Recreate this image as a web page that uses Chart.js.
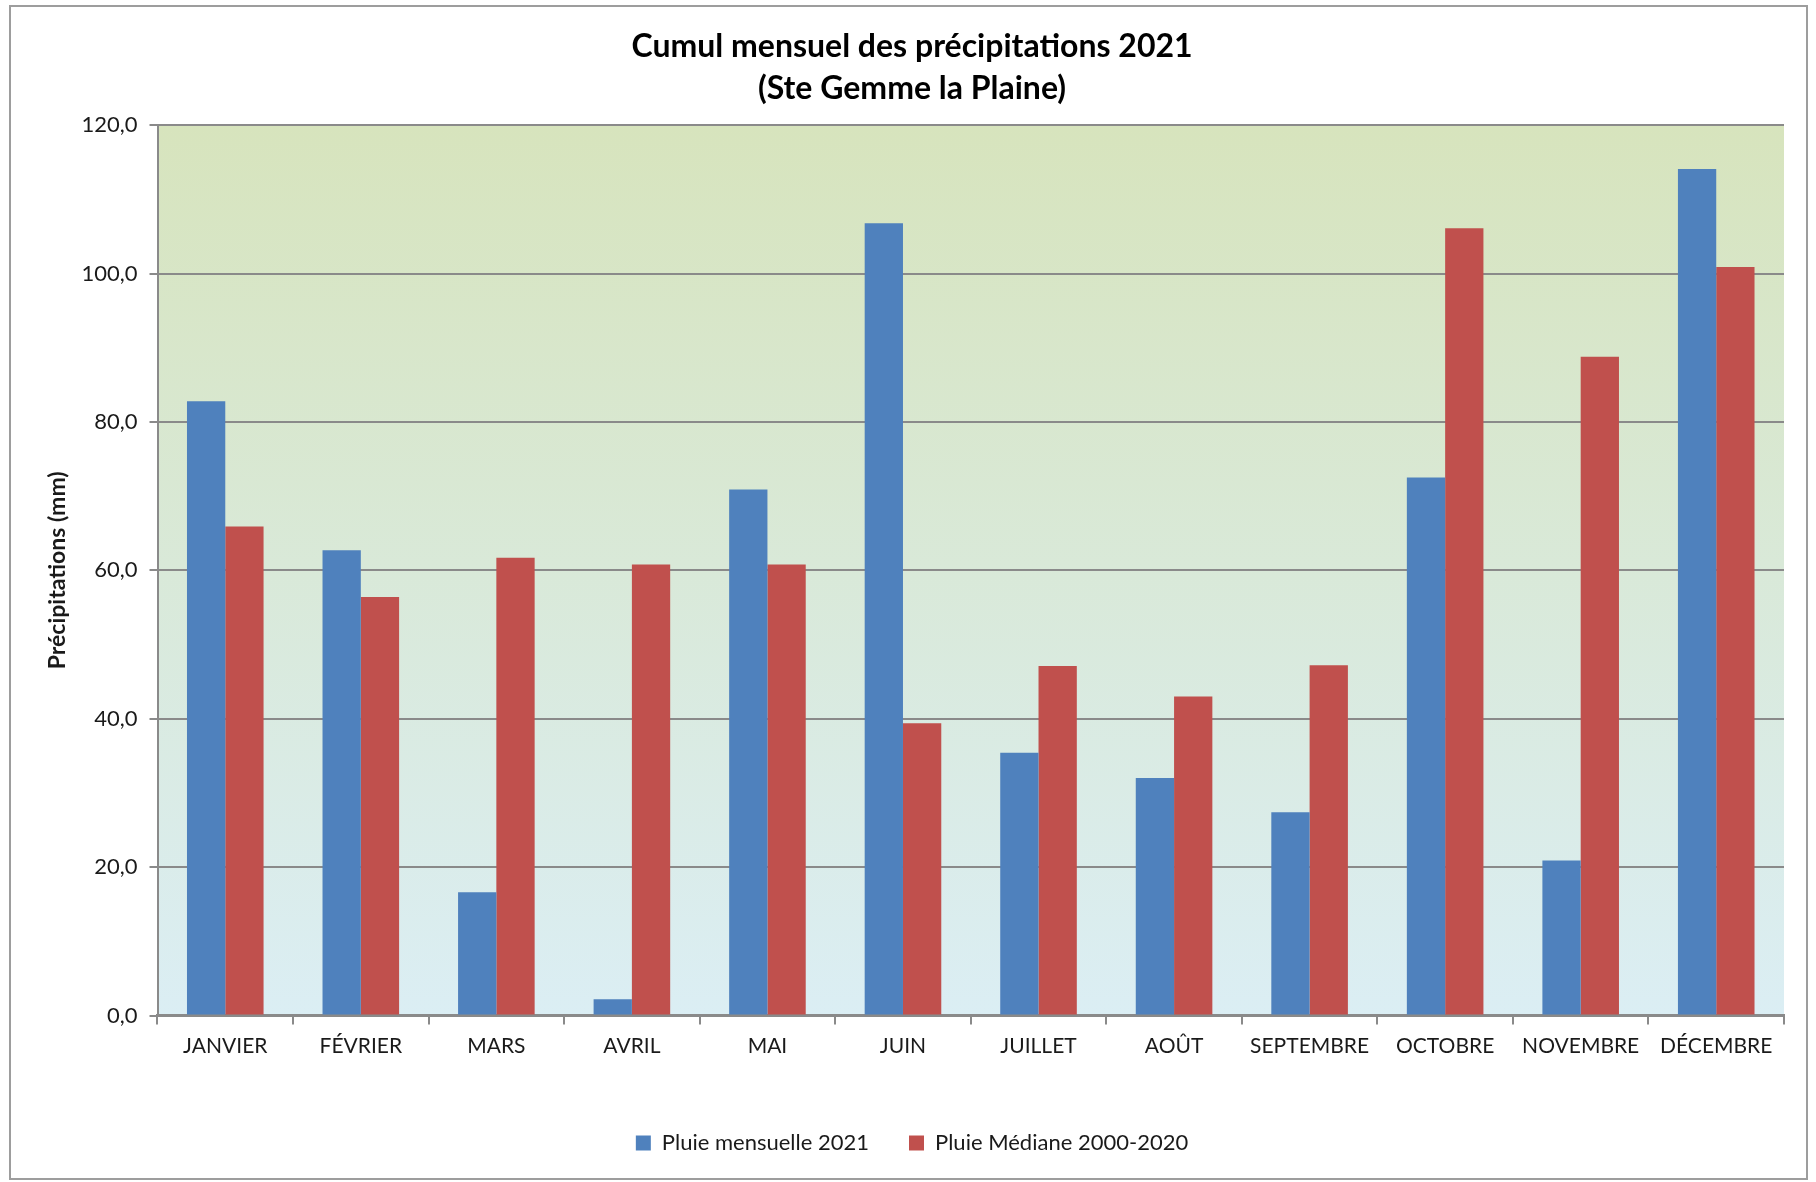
<!DOCTYPE html>
<html>
<head>
<meta charset="utf-8">
<script src="https://cdn.jsdelivr.net/npm/chart.js@4.4.1/dist/chart.umd.min.js"></script>
<style>
  html, body { margin: 0; padding: 0; background: #fff; }
</style>
</head>
<body>
<canvas id="rainChart" width="1816" height="1182"></canvas>
<script>
const months = ['JANVIER', 'FÉVRIER', 'MARS', 'AVRIL', 'MAI', 'JUIN', 'JUILLET', 'AOÛT', 'SEPTEMBRE', 'OCTOBRE', 'NOVEMBRE', 'DÉCEMBRE'];
const pluie2021 = [82.8, 62.7, 16.6, 2.2, 70.9, 106.8, 35.4, 32.0, 27.4, 72.5, 20.9, 114.1];
const mediane = [65.9, 56.4, 61.7, 60.8, 60.8, 39.4, 47.1, 43.0, 47.2, 106.1, 88.8, 100.9];
const yMin = 0, yMax = 120, yStep = 20;

const FONT = 'Lato, Carlito, Calibri, sans-serif';
const TEXT = '#1a1a1a';
const GRID = '#8a8a8a';

// white page + grey frame around everything
const frame = {
    id: 'frame',
    beforeDraw(chart) {
        const ctx = chart.ctx;
        ctx.save();
        ctx.fillStyle = '#fff';
        ctx.fillRect(0, 0, chart.width, chart.height);
        ctx.strokeStyle = '#9d9d9d';
        ctx.lineWidth = 2;
        ctx.strokeRect(10, 6, chart.width - 19, chart.height - 9);
        ctx.restore();
    }
};

// green -> light blue gradient behind the bars
const plotBackground = {
    id: 'plotBackground',
    beforeDraw(chart) {
        const { ctx, chartArea: a } = chart;
        const g = ctx.createLinearGradient(0, a.top, 0, a.bottom);
        g.addColorStop(0, '#d7e4bd');
        g.addColorStop(1, '#dbeef4');
        ctx.save();
        ctx.fillStyle = g;
        ctx.fillRect(a.left, a.top, a.right - a.left, a.bottom - a.top);
        ctx.restore();
    }
};

new Chart(document.getElementById('rainChart'), {
    type: 'bar',
    data: {
        labels: months,
        datasets: [{
            label: 'Pluie mensuelle 2021',
            data: pluie2021,
            backgroundColor: '#4f81bd'
        }, {
            label: 'Pluie Médiane 2000-2020',
            data: mediane,
            backgroundColor: '#c0504d'
        }]
    },
    options: {
        responsive: false,
        animation: false,
        layout: { padding: { left: 40, right: 32, top: 26, bottom: 18 } },
        datasets: {
            bar: { categoryPercentage: 0.565, barPercentage: 1 }
        },
        scales: {
            x: {
                grid: { drawOnChartArea: false, color: GRID, lineWidth: 2, tickLength: 9, offset: true },
                border: { color: GRID, width: 3 },
                ticks: { color: TEXT, font: { family: FONT, size: 21 }, padding: 9 },
                afterFit(s) { s.height = 76.5; }
            },
            y: {
                min: yMin,
                max: yMax,
                grid: { color: GRID, lineWidth: 2, tickLength: 8 },
                border: { color: GRID, width: 2 },
                ticks: {
                    stepSize: yStep,
                    color: TEXT,
                    font: { family: FONT, size: 22 },
                    padding: 12,
                    callback: v => v.toFixed(1).replace('.', ',')
                },
                title: {
                    display: true,
                    text: 'Précipitations (mm)',
                    color: TEXT,
                    font: { family: FONT, size: 23, weight: 'bold' },
                    padding: { top: 4, bottom: 0 }
                },
                afterFit(s) { s.width = 117.5; }
            }
        },
        plugins: {
            title: {
                display: true,
                text: ['Cumul mensuel des précipitations 2021', '(Ste Gemme la Plaine)'],
                color: '#000',
                font: { family: FONT, size: 32, weight: 'bold', lineHeight: 1.3 },
                padding: { top: 0, bottom: 16 }
            },
            legend: {
                position: 'bottom',
                labels: {
                    color: TEXT,
                    font: { family: FONT, size: 22 },
                    boxWidth: 15,
                    boxHeight: 15,
                    padding: 40
                }
            },
            tooltip: { enabled: false }
        }
    },
    plugins: [frame, plotBackground]
});
</script>
</body>
</html>
